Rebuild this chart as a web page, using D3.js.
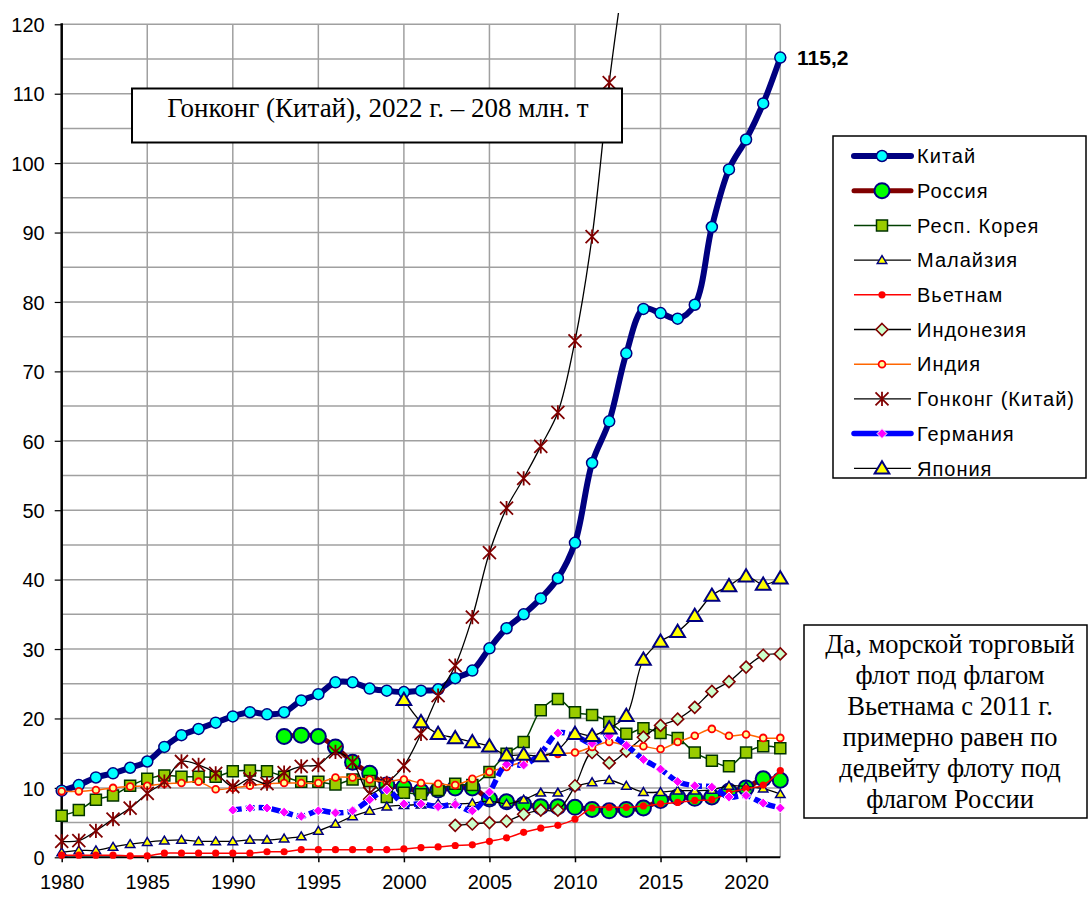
<!DOCTYPE html>
<html>
<head>
<meta charset="utf-8">
<script src="https://cdn.jsdelivr.net/npm/d3@7"></script>
<style>
  body { margin: 0; background: #fff; }
  text { font-family: "Liberation Sans", Arial, sans-serif; }
  .serif { font-family: "Liberation Serif", "Times New Roman", serif; }
</style>
</head>
<body>
<script>
// data, млн. т дедвейта
const years = d3.range(1980, 2023)

const china = [9.6, 10.4, 11.5, 12.1, 12.9, 13.8, 15.9, 17.6, 18.5, 19.4, 20.3, 20.9, 20.6, 20.9, 22.6, 23.5, 25.2, 25.2, 24.3, 24.0,
  23.8, 24.0, 24.2, 25.8, 26.9, 30.1, 33.0, 35.0, 37.3, 40.2, 45.3, 56.8, 62.8, 72.6, 79.0, 78.4, 77.6, 79.6, 90.8, 99.1, 103.4, 108.6, 115.2]
const russiaStart = 1993
const russia = [17.4, 17.6, 17.4, 15.9, 13.7, 12.1, 10.4, 10.1, 9.5, 9.7, 10.0, 10.0, 8.4, 8.0, 7.6, 7.3, 7.3, 7.2, 6.9, 6.7,
  6.9, 7.1, 8.2, 8.7, 8.5, 8.7, 9.5, 10.0, 11.3, 11.1]
const korea = [6.0, 6.8, 8.3, 8.9, 10.3, 11.3, 11.8, 11.6, 11.6, 11.6, 12.4, 12.5, 12.4, 11.6, 10.9, 10.9, 10.5, 11.2, 11.0, 8.7,
  9.3, 9.1, 9.7, 10.6, 10.4, 12.3, 14.9, 16.6, 21.2, 22.8, 20.9, 20.5, 19.5, 17.8, 18.6, 17.9, 17.2, 15.1, 13.9, 13.1, 15.1, 16.0, 15.7]
const malaysia = [0.7, 1.0, 1.0, 1.5, 1.9, 2.2, 2.4, 2.5, 2.3, 2.3, 2.3, 2.5, 2.5, 2.7, 3.0, 3.8, 4.8, 5.9, 6.7, 7.3,
  7.5, 7.6, 7.7, 7.7, 7.8, 8.1, 7.7, 8.3, 9.3, 9.3, 10.2, 10.8, 11.1, 10.3, 9.4, 9.4, 9.6, 9.6, 9.7, 10.3, 10.2, 9.9, 9.1]
const vietnam = [0.3, 0.3, 0.3, 0.3, 0.2, 0.2, 0.6, 0.6, 0.6, 0.6, 0.6, 0.6, 0.8, 0.8, 1.1, 1.1, 1.1, 1.1, 1.1, 1.1,
  1.2, 1.4, 1.5, 1.7, 1.8, 2.3, 2.8, 3.6, 4.2, 4.6, 5.5, 7.1, 7.2, 7.2, 7.4, 7.7, 7.9, 8.2, 8.3, 9.3, 9.9, 10.4, 12.5]
const indonesiaStart = 2003
const indonesia = [4.6, 4.8, 5.0, 5.2, 6.2, 6.8, 6.8, 10.3, 15.1, 13.6, 15.3, 17.3, 19.0, 19.9, 21.6, 23.9, 25.3, 27.4, 29.1, 29.3]
const india = [9.5, 9.5, 9.7, 10.0, 10.2, 10.3, 10.6, 10.7, 10.9, 9.8, 10.0, 10.3, 10.6, 10.7, 10.7, 10.7, 11.5, 11.5, 11.2, 10.9,
  11.2, 10.7, 10.6, 10.4, 11.3, 12.3, 13.0, 13.8, 14.5, 14.9, 15.1, 15.9, 16.6, 16.1, 16.0, 15.6, 16.6, 17.5, 18.5, 17.5, 17.7, 17.2, 17.2]
const hongkong = [2.3, 2.4, 3.8, 5.5, 7.1, 9.2, 10.9, 13.8, 13.3, 12.1, 10.2, 11.3, 10.6, 12.2, 13.1, 13.3, 15.2, 13.7, 9.2, 10.7,
  13.2, 17.8, 23.3, 27.6, 34.6, 43.9, 50.3, 54.6, 59.2, 64.1, 74.4, 89.4, 111.6, 130, 150, 163, 171, 177, 186, 194, 198, 204, 208]
const germanyStart = 1990
const germany = [6.8, 7.1, 7.1, 6.5, 5.9, 6.7, 6.4, 6.7, 8.3, 9.7, 7.7, 7.7, 7.3, 7.6, 6.7, 9.4, 13.4, 13.3, 15.0, 17.9,
  17.5, 16.4, 17.5, 16.1, 14.1, 12.7, 10.9, 10.3, 10.1, 8.7, 8.9, 7.8, 7.1]
const japanStart = 2000
const japan = [22.7, 19.5, 17.8, 17.2, 16.6, 16.0, 14.7, 14.8, 14.6, 15.5, 17.8, 17.5, 18.6, 20.4, 28.5, 31.1, 32.5, 34.8, 37.7, 39.1,
  40.5, 39.3, 40.2]

const yTicks = [0, 10, 20, 30, 40, 50, 60, 70, 80, 90, 100, 110, 120]
const xTicks = [1980, 1985, 1990, 1995, 2000, 2005, 2010, 2015, 2020]
const lastLabel = '115,2'
const noteHK = 'Гонконг (Китай), 2022 г. – 208 млн. т'
const noteVN = ['Да, морской торговый', 'флот под флагом', 'Вьетнама с 2011 г.', 'примерно равен по', 'дедвейту флоту под', 'флагом России']

const w = 1092
const h = 899

const toPoints = (vals, start) => vals.map((v, i) => ({ year: start + i, value: v }))

const series = [
  { name: 'Китай', data: toPoints(china, 1980), color: '#000080', width: 6, marker: 'circle', r: 5.5, fill: '#00ffff', stroke: '#000080', sw: 1.5 },
  { name: 'Россия', data: toPoints(russia, russiaStart), color: '#800000', width: 5, marker: 'circle', r: 7.5, fill: '#00ff00', stroke: '#000080', sw: 2 },
  { name: 'Респ. Корея', data: toPoints(korea, 1980), color: '#004000', width: 1.5, marker: 'square', r: 5.5, fill: '#99cc00', stroke: '#003300', sw: 1.5 },
  { name: 'Малайзия', data: toPoints(malaysia, 1980), color: '#000', width: 1.3, marker: 'triangle', r: 4.5, fill: '#ffff00', stroke: '#000080', sw: 1.5 },
  { name: 'Вьетнам', data: toPoints(vietnam, 1980), color: '#ff0000', width: 1.5, marker: 'circle', r: 3.6, fill: '#ff0000', stroke: '#ff0000', sw: 0 },
  { name: 'Индонезия', data: toPoints(indonesia, indonesiaStart), color: '#000', width: 1.3, marker: 'diamond', r: 6, fill: '#ccffcc', stroke: '#800000', sw: 1.6 },
  { name: 'Индия', data: toPoints(india, 1980), color: '#ff6600', width: 1.5, marker: 'circle', r: 3.4, fill: '#ffff99', stroke: '#ff0000', sw: 1.8 },
  { name: 'Гонконг (Китай)', data: toPoints(hongkong, 1980), color: '#000', width: 1.3, marker: 'star', r: 6.5, fill: 'none', stroke: '#800000', sw: 1.8 },
  { name: 'Германия', data: toPoints(germany, germanyStart), color: '#0000ff', width: 5.5, dash: '9,4', marker: 'diamond', r: 5, fill: '#ff00ff', stroke: '#fff', sw: 1 },
  { name: 'Япония', data: toPoints(japan, japanStart), color: '#000', width: 1.3, marker: 'triangle', r: 7, fill: '#ffff00', stroke: '#000080', sw: 2 }
]

const svg = d3.select('body')
  .append('svg')
  .attr('width', w)
  .attr('height', h)

const xScale = d3.scaleLinear()
  .domain([1980, 2022])
  .range([61.7, 780.3])

const yScale = d3.scaleLinear()
  .domain([0, 120])
  .range([857.3, 24.3])

// grid
svg.append('g')
  .selectAll('line')
  .data(d3.range(5, 125, 5))
  .enter()
  .append('line')
  .attr('x1', xScale(1980))
  .attr('x2', xScale(2022))
  .attr('y1', d => yScale(d))
  .attr('y2', d => yScale(d))
  .attr('stroke', '#a0a0a0')
  .attr('stroke-width', 1.5)

svg.append('g')
  .selectAll('line')
  .data([1985, 1990, 1995, 2000, 2005, 2010, 2015, 2020, 2022])
  .enter()
  .append('line')
  .attr('x1', d => xScale(d))
  .attr('x2', d => xScale(d))
  .attr('y1', yScale(120))
  .attr('y2', yScale(0))
  .attr('stroke', '#a0a0a0')
  .attr('stroke-width', 1.5)

// axes
const yAxis = d3.axisLeft(yScale).tickValues(yTicks).tickSize(7).tickPadding(10)
const xAxis = d3.axisBottom(xScale).tickValues(xTicks).tickFormat(d3.format('d')).tickSize(5).tickPadding(13)

const gy = svg.append('g')
  .attr('transform', `translate(${xScale(1980)},0)`)
  .call(yAxis)
const gx = svg.append('g')
  .attr('transform', `translate(0,${yScale(0)})`)
  .call(xAxis)

;[gx, gy].forEach(g => {
  g.select('.domain').remove()
  g.selectAll('line').attr('stroke', '#000').attr('stroke-width', 1.5)
  g.selectAll('text').attr('fill', '#000').style('font-size', '20px').style('font-family', '"Liberation Sans", Arial, sans-serif')
})
gy.selectAll('line').attr('stroke-width', 1.2)
gy.selectAll('text').attr('dy', '0.36em')

svg.append('line')
  .attr('x1', xScale(1980)).attr('x2', xScale(1980))
  .attr('y1', yScale(120) - 1).attr('y2', yScale(0) + 1)
  .attr('stroke', '#000').attr('stroke-width', 2.5)
svg.append('line')
  .attr('x1', xScale(1980)).attr('x2', xScale(2022))
  .attr('y1', yScale(0)).attr('y2', yScale(0))
  .attr('stroke', '#000').attr('stroke-width', 2)

svg.append('clipPath')
  .attr('id', 'clip')
  .append('rect')
  .attr('x', 0).attr('y', 13).attr('width', 800).attr('height', 860)

const line = d3.line()
  .x(d => xScale(d.year))
  .y(d => yScale(d.value))
  .curve(d3.curveCatmullRom.alpha(0.5))

const markerPath = (type, r) => {
  if (type === 'triangle') return `M0,${-r}L${r * 1.05},${r * 0.75}L${-r * 1.05},${r * 0.75}Z`
  if (type === 'diamond') return `M0,${-r}L${r},0L0,${r}L${-r},0Z`
  if (type === 'square') return `M${-r},${-r}H${r}V${r}H${-r}Z`
  if (type === 'star') return `M${-r},${-r}L${r},${r}M${-r},${r}L${r},${-r}M0,${-r * 1.1}L0,${r * 1.1}`
  return null
}

const drawMarker = (g, s) => {
  if (s.marker === 'circle') {
    return g.append('circle').attr('r', s.r).attr('fill', s.fill)
      .attr('stroke', s.stroke).attr('stroke-width', s.sw)
  }
  return g.append('path').attr('d', markerPath(s.marker, s.r)).attr('fill', s.fill)
    .attr('stroke', s.stroke).attr('stroke-width', s.sw)
}

const plotArea = svg.append('g').attr('clip-path', 'url(#clip)')

series.forEach(s => {
  const g = plotArea.append('g')
  g.append('path')
    .datum(s.data)
    .attr('d', line)
    .attr('fill', 'none')
    .attr('stroke', s.color)
    .attr('stroke-width', s.width)
    .attr('stroke-dasharray', s.dash || null)
    .attr('stroke-linejoin', 'round')

  s.data.filter(d => d.value <= 120).forEach(d => {
    const m = g.append('g').attr('transform', `translate(${xScale(d.year)},${yScale(d.value)})`)
    drawMarker(m, s)
  })
})

svg.append('text')
  .attr('x', 797)
  .attr('y', 65)
  .style('font-size', '21px')
  .style('font-weight', 'bold')
  .text(lastLabel)

// Hong Kong note
svg.append('rect')
  .attr('x', 132).attr('y', 88.5).attr('width', 490).attr('height', 54)
  .attr('fill', '#fff').attr('stroke', '#000').attr('stroke-width', 2)
svg.append('text')
  .attr('class', 'serif')
  .attr('x', 378).attr('y', 117)
  .attr('text-anchor', 'middle')
  .style('font-size', '27px')
  .text(noteHK)

// legend
const legend = svg.append('g')
legend.append('rect')
  .attr('x', 833).attr('y', 136).attr('width', 253).attr('height', 342)
  .attr('fill', '#fff').attr('stroke', '#000').attr('stroke-width', 1.5)

series.forEach((s, i) => {
  const ly = 156 + i * 34.7
  legend.append('line')
    .attr('x1', 854).attr('x2', 911)
    .attr('y1', ly).attr('y2', ly)
    .attr('stroke', s.color)
    .attr('stroke-width', s.width)
    .attr('stroke-linecap', s.width > 3 ? 'round' : 'butt')
  const m = legend.append('g').attr('transform', `translate(882,${ly})`)
  drawMarker(m, s)
  legend.append('text')
    .attr('x', 917).attr('y', ly)
    .attr('dy', '0.36em')
    .style('font-size', '20px')
    .style('letter-spacing', '1px')
    .text(s.name)
})

// Vietnam note
svg.append('rect')
  .attr('x', 804).attr('y', 625).attr('width', 283).attr('height', 193)
  .attr('fill', '#fff').attr('stroke', '#000').attr('stroke-width', 1.5)
svg.append('g')
  .selectAll('text')
  .data(noteVN)
  .enter()
  .append('text')
  .attr('class', 'serif')
  .attr('x', 950)
  .attr('y', (d, i) => 653 + i * 31)
  .attr('text-anchor', 'middle')
  .style('font-size', '26.5px')
  .text(d => d)
</script>
</body>
</html>
